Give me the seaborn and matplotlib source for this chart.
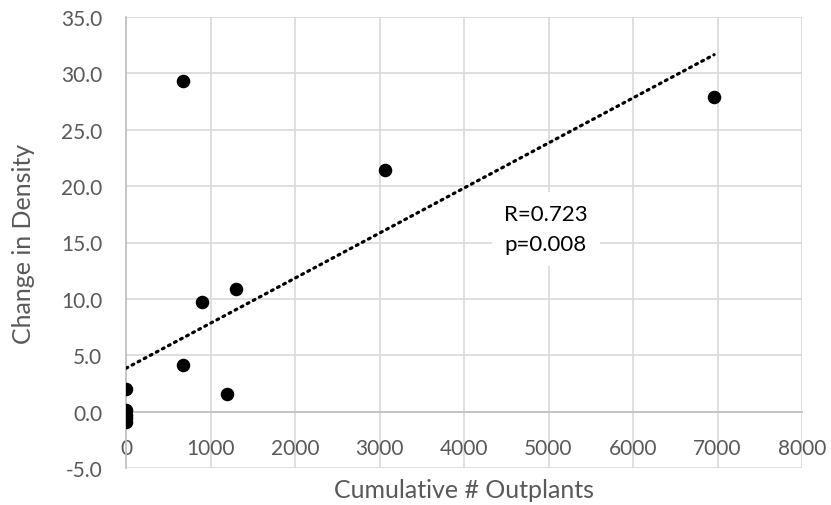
import numpy as np
import pandas as pd
import matplotlib
matplotlib.use("Agg")
import matplotlib.pyplot as plt
import seaborn as sns

# Data
outplants = [680, 3070, 6960, 1300, 900, 680, 1190, 0, 0, 0, 0, 0]
density_change = [29.3, 21.4, 27.9, 10.9, 9.7, 4.1, 1.6, 2.0, 0.1, -0.3, -0.6, -0.9]
x_ticks = [0, 1000, 2000, 3000, 4000, 5000, 6000, 7000, 8000]
y_ticks = [-5.0, 0.0, 5.0, 10.0, 15.0, 20.0, 25.0, 30.0, 35.0]
stats_text = "R=0.723\np=0.008"

df = pd.DataFrame({"x": outplants, "y": density_change})

sns.set_theme(style="white")
plt.rcParams["font.family"] = ["Lato", "DejaVu Sans"]

fig = plt.figure(figsize=(8.31, 5.06), dpi=100)
ax = fig.add_axes([126 / 831, 1 - 469 / 506, (802 - 126) / 831, (469 - 18) / 506])

grid_c = "#d9d9d9"
text_c = "#595959"

sns.scatterplot(data=df, x="x", y="y", ax=ax, s=95, color="black",
                edgecolor="black", linewidth=0, zorder=4)

# linear trend line (least squares, drawn over the data range)
slope, intercept = np.polyfit(df["x"], df["y"], 1)
xs = np.array([df["x"].min(), df["x"].max()])
ax.plot(xs, slope * xs + intercept, color="black", lw=2.3,
        linestyle=(0, (0.6, 1.55)), dash_capstyle="round", zorder=3)

ax.set_xlim(0, 8000)
ax.set_ylim(-5, 35)
ax.set_xticks(x_ticks)
ax.set_yticks(y_ticks)
ax.set_xticklabels([str(v) for v in x_ticks])
ax.set_yticklabels([f"{v:.1f}" for v in y_ticks])
ax.grid(True, color=grid_c, lw=1.2, zorder=0)
ax.set_axisbelow(True)

for s in ["top", "right"]:
    ax.spines[s].set_visible(False)
ax.spines["left"].set_color("#bfbfbf")
ax.spines["left"].set_linewidth(1.2)
ax.spines["bottom"].set_position(("data", 0))
ax.spines["bottom"].set_color("#bfbfbf")
ax.spines["bottom"].set_linewidth(1.2)

ax.tick_params(axis="both", length=0, labelsize=15, colors=text_c)
ax.tick_params(axis="x", pad=19)
ax.tick_params(axis="y", pad=17)

ax.set_xlabel("Cumulative # Outplants", fontsize=18, color=text_c)
ax.set_ylabel("Change in Density", fontsize=18, color=text_c)
ax.xaxis.set_label_coords(0.5, -0.022)
ax.yaxis.set_label_coords(-0.135, 0.5)

ax.text(4970, 16.2, stats_text, ha="center", va="center", fontsize=16,
        color="black", linespacing=1.6, zorder=5,
        bbox=dict(facecolor="white", edgecolor="none", pad=9))

fig.savefig("out.png", dpi=100)
